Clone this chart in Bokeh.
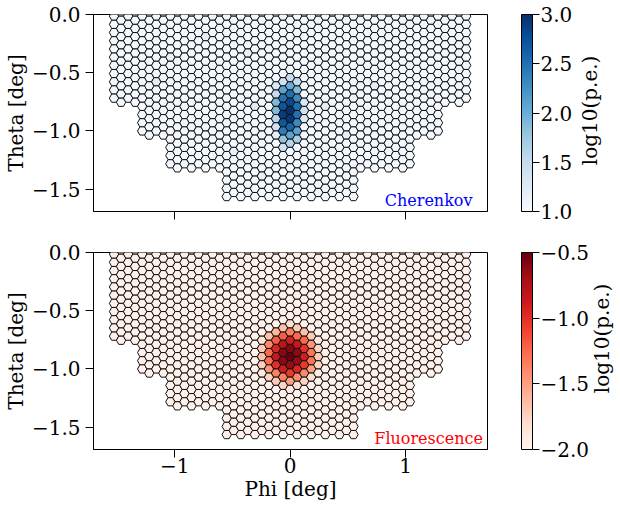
import math
import numpy as np
from bokeh.plotting import figure
from bokeh.models import (ColumnDataSource, LinearColorMapper, ColorBar, FixedTicker,
                          CustomJSTickFormatter, Label, Range1d)
from bokeh.layouts import column, row
from bokeh.palettes import Blues256, Reds256
from bokeh.embed import file_html
from bokeh.resources import INLINE

FONT = "DejaVu Serif"

# ---------------- camera layout (hexagonal pixels, flat-top) ----------------
col_pitch = 0.061            # deg between neighbouring pixel columns
col_max = 25                 # columns -25 .. 25
group_abs_max = [9, 17, 21, 25]      # |column| limits of the stepped lower edge
group_jmax_even = [22, 19, 15, 11]   # last row index in even columns
group_jmax_odd = [22, 18, 14, 10]    # last row index in odd columns
y_first_even = 0.021                 # centre of first pixel of even columns

x_ticks = [-1, 0, 1]
y_ticks = [0.0, -0.5, -1.0, -1.5]

# ---------------- Cherenkov image, log10(p.e.) ----------------
cher_background = 1.05
cher_cols = [-2, -1, 0, 1, 2]
cher_first_row = [9, 8, 8, 8, 11]
cher_values = [
    [1.3, 1.5, 1.9, 1.9, 1.6, 1.4, 1.2],
    [1.4, 2.1, 2.5, 2.7, 2.9, 2.7, 2.4, 1.8, 1.4],
    [1.5, 2.0, 2.5, 2.8, 3.0, 2.95, 2.6, 2.1, 1.6],
    [1.5, 1.9, 2.3, 2.5, 2.5, 2.3, 2.1, 1.7],
    [1.3, 1.4, 1.3],
]
cher_noise_i = [-12, -17, -19, -6, -5, 5, -4, 8, -8, 12]
cher_noise_j = [3, 5, 8, 5, 11, 11, 20, 15, 17, 9]
cher_noise_v = [1.2, 1.15, 1.2, 1.15, 1.25, 1.2, 1.15, 1.2, 1.15, 1.2]
cher_ticks = [1.0, 1.5, 2.0, 2.5, 3.0]
cher_low, cher_high = 1.0, 3.0

# ---------------- Fluorescence image, log10(p.e.) ----------------
fluo_background = -1.96
fluo_cols = [-4, -3, -2, -1, 0, 1, 2, 3, 4]
fluo_first_row = [11, 9, 9, 8, 9, 8, 9, 9, 11]
fluo_values = [
    [-1.85, -1.7, -1.65, -1.72, -1.9],
    [-1.95, -1.65, -1.4, -1.25, -1.27, -1.45, -1.75],
    [-1.95, -1.6, -1.2, -0.95, -0.85, -1.0, -1.35, -1.7, -1.98],
    [-1.95, -1.65, -1.2, -0.8, -0.6, -0.62, -0.9, -1.35, -1.75],
    [-1.8, -1.35, -0.9, -0.6, -0.5, -0.65, -1.05, -1.5, -1.9],
    [-1.95, -1.7, -1.25, -0.85, -0.62, -0.65, -0.95, -1.4, -1.8],
    [-1.97, -1.65, -1.25, -1.0, -0.9, -1.05, -1.4, -1.75, -1.98],
    [-1.97, -1.7, -1.45, -1.3, -1.3, -1.5, -1.8],
    [-1.9, -1.75, -1.7, -1.75, -1.92],
]
fluo_ticks = [-2.0, -1.5, -1.0, -0.5]
fluo_low, fluo_high = -2.0, -0.5

# ---------------- build pixel geometry ----------------
R = col_pitch / 1.5
dy = math.sqrt(3) * R
pix_i, pix_j = [], []
for i in range(-col_max, col_max + 1):
    g = next(k for k, m in enumerate(group_abs_max) if abs(i) <= m)
    jmax = group_jmax_odd[g] if i % 2 else group_jmax_even[g]
    for j in range(jmax + 1):
        pix_i.append(i)
        pix_j.append(j)
cx = [i * col_pitch for i in pix_i]
cy = [y_first_even - j * dy - (dy / 2 if i % 2 else 0.0) for i, j in zip(pix_i, pix_j)]
ang = np.arange(6) * np.pi / 3
hex_xs = [list(x + R * np.cos(ang)) for x in cx]
hex_ys = [list(y + R * np.sin(ang)) for y in cy]


def pixel_values(background, cols, first_rows, vals, extra=None):
    d = {}
    for c, j0, vs in zip(cols, first_rows, vals):
        for k, v in enumerate(vs):
            d[(c, j0 + k)] = v
    if extra:
        for i, j, v in zip(*extra):
            d.setdefault((i, j), v)
    return [d.get((i, j), background) for i, j in zip(pix_i, pix_j)]


cher_pix = pixel_values(cher_background, cher_cols, cher_first_row, cher_values,
                        (cher_noise_i, cher_noise_j, cher_noise_v))
fluo_pix = pixel_values(fluo_background, fluo_cols, fluo_first_row, fluo_values)

minus_fmt1 = "return (tick < -1e-9 ? '\\u2212' : '') + Math.abs(tick).toFixed(1);"
minus_fmt0 = "return (tick < -1e-9 ? '\\u2212' : '') + Math.abs(tick).toFixed(0);"

LEFT_B = 91
FRAME_W = 396


def make_panel(pix, palette, low, high, cticks, tag, tag_color, show_x,
               fig_w, fig_h, top_b, bot_b):
    p = figure(width=fig_w, height=fig_h,
               x_range=Range1d(-1.703, 1.71), y_range=Range1d(-1.692, 0.0),
               output_backend="svg", toolbar_location=None,
               min_border_left=LEFT_B, min_border_right=fig_w - LEFT_B - FRAME_W,
               min_border_top=top_b, min_border_bottom=bot_b,
               background_fill_color="white", border_fill_color="white")
    p.grid.visible = False
    p.outline_line_color = "black"
    p.outline_line_width = 1

    mapper = LinearColorMapper(palette=list(palette)[::-1], low=low, high=high)
    src = ColumnDataSource(dict(xs=hex_xs, ys=hex_ys, v=pix))
    p.patches("xs", "ys", source=src, fill_color={"field": "v", "transform": mapper},
              line_color="#111111", line_width=1)

    for ax in (p.xaxis[0], p.yaxis[0]):
        ax.axis_line_color = "black"
        ax.major_tick_line_color = "black"
        ax.major_tick_in = 0
        ax.major_tick_out = 8
        ax.minor_tick_line_color = None
        ax.major_label_text_font = FONT
        ax.major_label_text_font_size = "20px"
        ax.major_label_text_color = "black"
        ax.axis_label_text_font = FONT
        ax.axis_label_text_font_size = "20px"
        ax.axis_label_text_font_style = "normal"
        ax.axis_label_text_color = "black"

    p.xaxis.ticker = FixedTicker(ticks=x_ticks)
    p.xaxis.formatter = CustomJSTickFormatter(code=minus_fmt0)
    p.yaxis.ticker = FixedTicker(ticks=y_ticks)
    p.yaxis.formatter = CustomJSTickFormatter(code=minus_fmt1)
    p.yaxis.axis_label = "Theta [deg]"
    p.yaxis.major_label_standoff = 5
    p.yaxis.axis_label_standoff = 1
    if show_x:
        p.xaxis.axis_label = "Phi [deg]"
        p.xaxis.major_label_standoff = 0
        p.xaxis.axis_label_standoff = 1
    else:
        p.xaxis.major_label_text_font_size = "0px"

    cb = ColorBar(color_mapper=mapper, location=(428, 0), orientation="vertical",
                  width=11, height=197, padding=0, margin=0,
                  ticker=FixedTicker(ticks=cticks),
                  formatter=CustomJSTickFormatter(code=minus_fmt1),
                  major_tick_in=0, major_tick_out=7, major_tick_line_color="black",
                  minor_tick_line_color=None, bar_line_color="black", bar_line_width=1,
                  label_standoff=1, major_label_text_font=FONT,
                  major_label_text_font_size="20px", major_label_text_color="black",
                  background_fill_alpha=0, border_line_color=None)
    p.add_layout(cb, "center")

    p.add_layout(Label(x=1.2, y=-1.595, text=tag, text_align="center",
                       text_baseline="alphabetic", text_font=FONT, text_font_size="16px",
                       text_color=tag_color))
    return p


def label_fig(w, h, x, y, text):
    f = figure(width=w, height=h, x_range=Range1d(0, w), y_range=Range1d(0, h),
               output_backend="svg", toolbar_location=None, min_border=0,
               x_axis_location=None, y_axis_location=None,
               background_fill_color="white", border_fill_color="white")
    f.outline_line_color = None
    f.grid.visible = False
    f.add_layout(Label(x=x, y=y, text=text, angle=math.pi / 2, text_align="center",
                       text_baseline="middle", text_font=FONT, text_font_size="20px",
                       text_color="black"))
    return f


top_tb, top_bb = 14, 20
bot_tb, bot_bb = 21, 56
top_h = top_tb + 197 + top_bb
bot_h = bot_tb + 197 + bot_bb
top = make_panel(cher_pix, Blues256, cher_low, cher_high, cher_ticks, "Cherenkov", "blue",
                 False, 578, top_h, top_tb, top_bb)
bottom = make_panel(fluo_pix, Reds256, fluo_low, fluo_high, fluo_ticks, "Fluorescence", "red",
                    True, 590, bot_h, bot_tb, bot_bb)
lab_top = label_fig(24, top_h, 11.8, top_h - top_tb - 98.5, "log10(p.e.)")
lab_bottom = label_fig(24, bot_h, 11.8, bot_h - bot_tb - 98.5, "log10(p.e.)")

layout = column(row(top, lab_top), row(bottom, lab_bottom))
open("out.html", "w", encoding="utf-8").write(file_html(layout, INLINE))
